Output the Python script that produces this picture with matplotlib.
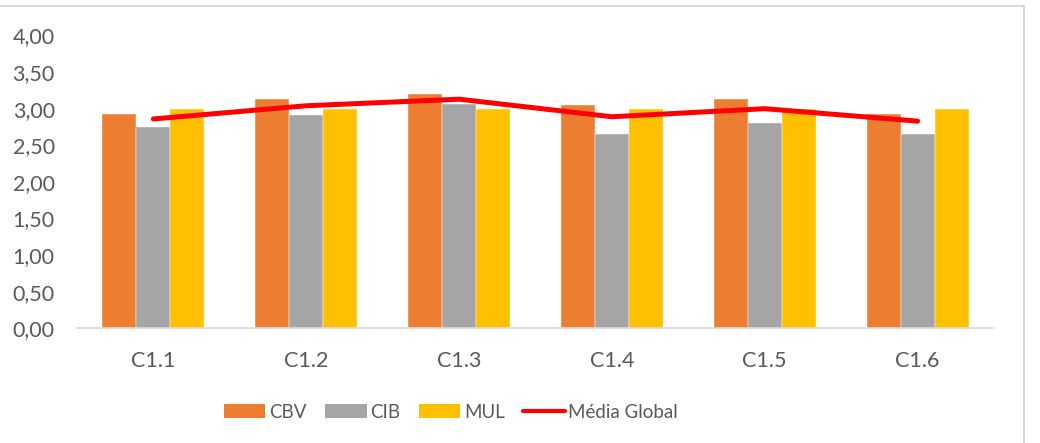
import matplotlib
matplotlib.use("Agg")
import matplotlib.pyplot as plt
import numpy as np
from matplotlib.lines import Line2D
from matplotlib.patches import Patch, Rectangle

categories = ["C1.1", "C1.2", "C1.3", "C1.4", "C1.5", "C1.6"]
cbv = [2.93, 3.13, 3.20, 3.05, 3.13, 2.93]
cib = [2.75, 2.91, 3.06, 2.65, 2.81, 2.65]
mul = [3.00, 3.00, 3.00, 3.00, 3.00, 3.00]
media_global = [2.86, 3.04, 3.13, 2.89, 3.00, 2.83]
yticks = [0, 0.5, 1.0, 1.5, 2.0, 2.5, 3.0, 3.5, 4.0]
ytick_labels = ["0,00", "0,50", "1,00", "1,50", "2,00", "2,50", "3,00", "3,50", "4,00"]

plt.rcParams['font.family'] = ['Lato', 'DejaVu Sans']
txt_color = "#595959"
fs = 15.5
lfs = 13.5

fig = plt.figure(figsize=(10.4, 4.43), dpi=100)
ax = fig.add_axes([77/1040, 114.7/443, (994-77)/1040, (328.3-35.5)/443])

x = np.arange(len(categories))
w = 0.2225
ax.bar(x - w, cbv, w, color="#ED7D31", edgecolor="white", linewidth=0.3, label="CBV")
ax.bar(x, cib, w, color="#A5A5A5", edgecolor="white", linewidth=0.3, label="CIB")
ax.bar(x + w, mul, w, color="#FFC000", edgecolor="white", linewidth=0.3, label="MUL")
ax.plot(x, media_global, color="#FF0000", linewidth=3.6, solid_capstyle="round",
        solid_joinstyle="round", label="Média Global")

ax.set_xlim(-0.5, len(categories) - 0.5)
ax.set_ylim(0, 4)
ax.set_yticks(yticks)
ax.set_yticklabels(ytick_labels)
ax.set_xticks(x)
ax.set_xticklabels(categories)
ax.tick_params(axis="y", length=0, pad=16, labelsize=fs, labelcolor=txt_color)
ax.tick_params(axis="x", length=0, pad=16, labelsize=fs, labelcolor=txt_color)
for s in ["top", "right", "left"]:
    ax.spines[s].set_visible(False)
ax.spines["bottom"].set_color("#D9D9D9")
ax.spines["bottom"].set_linewidth(1.2)

handles = [Patch(facecolor="#ED7D31"), Patch(facecolor="#A5A5A5"), Patch(facecolor="#FFC000"),
           Line2D([0], [0], color="#FF0000", linewidth=3, solid_capstyle="round")]
leg = fig.legend(handles, ["CBV", "CIB", "MUL", "Média Global"], loc="center",
                 bbox_to_anchor=(451/1040, 1 - 412/443), ncol=4, frameon=False,
                 fontsize=lfs, handlelength=2.22, handleheight=0.74, handletextpad=0.21,
                 columnspacing=0.96, borderaxespad=0)
for t in leg.get_texts():
    t.set_color(txt_color)

fig.patches.append(Rectangle((-10/1040, -10/443), (1024+10)/1040, (437+10)/443,
                             transform=fig.transFigure, fill=False,
                             edgecolor="#D9D9D9", linewidth=1.5))

fig.savefig("out.png", dpi=100)
